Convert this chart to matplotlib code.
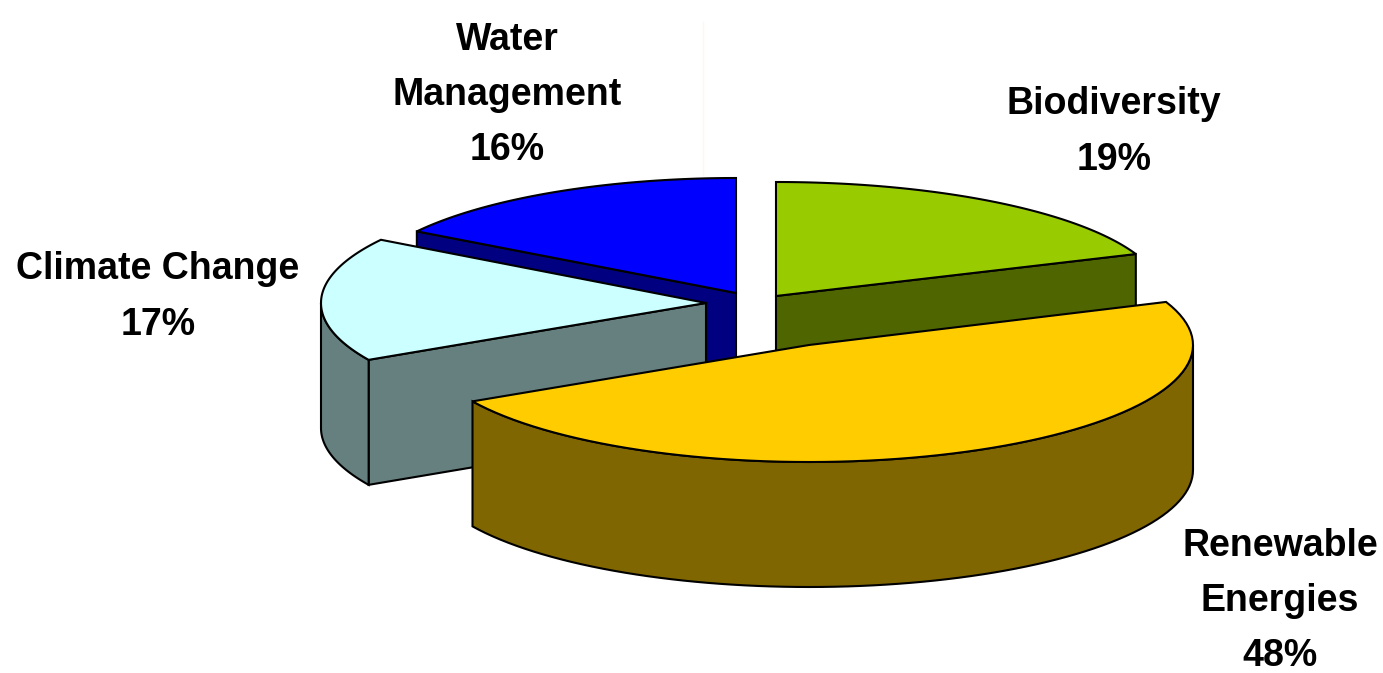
import matplotlib
matplotlib.use('Agg')
import matplotlib.pyplot as plt
from matplotlib import font_manager as fm
import numpy as np

categories = ['Biodiversity', 'Renewable Energies', 'Climate Change', 'Water Management']
shares = [19, 48, 17, 16]
label_text = ['Biodiversity\n19%', 'Renewable\nEnergies\n48%', 'Climate Change\n17%', 'Water\nManagement\n16%']

top_colors = ['#99CC00', '#FFCC00', '#CCFFFF', '#0000FF']
side_colors = ['#4F6600', '#806600', '#668080', '#000080']

# apex of each exploded slice and the ellipse radii, in pixels
apex = [(776, 296), (809, 345), (706, 303), (736, 293)]
radii = [(387, 114), (384, 117), (385, 118), (378, 115)]
depth = 125
label_pos = [(1114, 132), (1280, 601), (158, 297), (507, 95)]

names = {f.name for f in fm.fontManager.ttflist}
font = 'Liberation Sans Narrow' if 'Liberation Sans Narrow' in names else 'Liberation Sans'
font_size = 32 if font == 'Liberation Sans Narrow' else 27

fig = plt.figure(figsize=(13.83, 6.73), dpi=100)
ax = fig.add_axes([0, 0, 1, 1])
ax.set_xlim(0, 1383)
ax.set_ylim(673, 0)
ax.axis('off')

# faint guide line above the water slice
ax.plot([703, 703], [22, 175], color='#FBF7F2', lw=1, zorder=0)


def rim(i, a0, a1):
    t = np.radians(np.linspace(a0, a1, 80))
    cx, cy = apex[i]
    rx, ry = radii[i]
    return cx + rx * np.sin(t), cy - ry * np.cos(t)


def wall(i, xs, ys, z):
    px = np.concatenate([xs, xs[::-1]])
    py = np.concatenate([ys, ys[::-1] + depth])
    ax.fill(px, py, facecolor=side_colors[i], edgecolor='black', lw=1.5, joinstyle='miter', zorder=z)


ends = np.cumsum([0] + shares) * 3.6
# back to front, so the big slice sits on top
for z, i in enumerate([3, 0, 2, 1]):
    a0, a1 = ends[i], ends[i + 1]
    cx, cy = apex[i]
    x, y = rim(i, a0, a1)
    base = z * 10 + 1
    # cut faces of the slice
    if categories[i] == 'Biodiversity':
        wall(i, np.array([cx, x[-1]]), np.array([cy, y[-1]]), base)
    if categories[i] == 'Water Management':
        wall(i, np.array([x[0], cx]), np.array([y[0], cy]), base)
    if categories[i] == 'Climate Change':
        wall(i, np.array([x[0], cx]), np.array([y[0], cy]), base)
    # outer wall on the part of the rim that faces the viewer
    lo, hi = max(a0, 90), min(a1, 270)
    if lo < hi:
        wx, wy = rim(i, lo, hi)
        wall(i, wx, wy, base + 1)
    ax.fill(np.r_[cx, x], np.r_[cy, y], facecolor=top_colors[i], edgecolor='black',
            lw=1.5, joinstyle='miter', zorder=base + 2)

for txt, (lx, ly) in zip(label_text, label_pos):
    ax.text(lx, ly, txt, ha='center', va='center', family=font, fontweight='bold',
            fontsize=font_size, linespacing=1.68, color='black', zorder=50)

fig.savefig('out.png', dpi=100)
